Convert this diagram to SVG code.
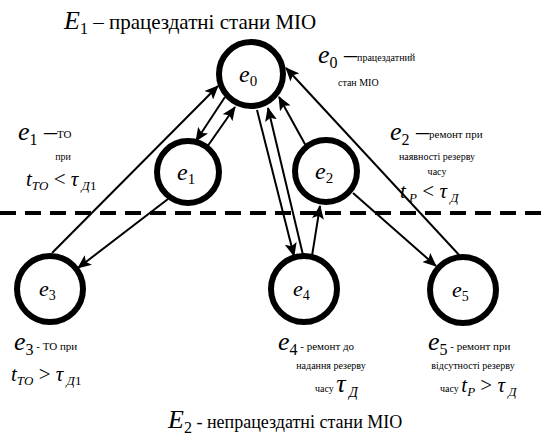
<svg xmlns="http://www.w3.org/2000/svg" width="549" height="440" viewBox="0 0 549 440" font-family="'Liberation Serif', 'Times New Roman', serif">
<defs>
<marker id="ah" markerUnits="userSpaceOnUse" markerWidth="14" markerHeight="12" refX="13" refY="6" orient="auto">
<path d="M0,0 L14,6 L0,12 L3,6 Z" fill="#000"/>
</marker>
<style>
.n{fill:#fff;stroke:#000;stroke-width:6}
.c{stroke:#000;stroke-width:2;fill:none;marker-end:url(#ah)}
.v{font-style:italic}
.lb{font-size:24px;font-style:italic}
.sm{font-size:10px}
.s11{font-size:11px}
</style>
</defs>
<rect width="549" height="440" fill="#fff"/>
<line x1="0" y1="213" x2="549" y2="213" stroke="#000" stroke-width="4" stroke-dasharray="16,9"/>
<g id="connectors">
<path class="c" d="M52,253 L218,86"/>
<path class="c" d="M225,97 L196,141"/>
<path class="c" d="M207,147 L235,107"/>
<path class="c" d="M168,199 L78,268"/>
<path class="c" d="M257,110 L294,256"/>
<path class="c" d="M303,255 L268,108"/>
<path class="c" d="M312,256 L320,206"/>
<path class="c" d="M306,146 L279,97"/>
<path class="c" d="M460,256 L286,68"/>
<path class="c" d="M353,193 L436,266"/>
</g>
<g id="e0"><circle class="n" cx="251" cy="74" r="32"/><text x="239" y="82" class="lb">e<tspan font-size="15" dy="4" font-style="normal">0</tspan></text></g>
<g id="e1"><circle class="n" cx="188" cy="172" r="31"/><text x="177" y="180" class="lb">e<tspan font-size="15" dy="4" font-style="normal">1</tspan></text></g>
<g id="e2"><circle class="n" cx="326" cy="171" r="31"/><text x="315" y="179" class="lb">e<tspan font-size="15" dy="4" font-style="normal">2</tspan></text></g>
<g id="e3"><circle class="n" cx="50" cy="289" r="33"/><text x="39" y="296" font-size="22" class="v">e<tspan font-size="14" dy="4" font-style="normal">3</tspan></text></g>
<g id="e4"><circle class="n" cx="304" cy="289" r="33"/><text x="293" y="296" font-size="22" class="v">e<tspan font-size="14" dy="4" font-style="normal">4</tspan></text></g>
<g id="e5"><circle class="n" cx="463" cy="290" r="33"/><text x="452" y="297" font-size="22" class="v">e<tspan font-size="14" dy="4" font-style="normal">5</tspan></text></g>
<g id="labels">
<text x="64" y="29" font-size="26"><tspan class="v">E</tspan><tspan font-size="16" dy="5">1</tspan><tspan font-size="21" dy="-5"> – працездатні стани МІО</tspan></text>
<text x="318" y="63" font-size="26"><tspan class="v">e</tspan><tspan font-size="16" dy="5">0</tspan><tspan dy="-5"> –</tspan><tspan class="sm" dy="-2">працездатний</tspan></text>
<text x="338" y="86" class="sm">стан МІО</text>
<text x="18" y="140" font-size="26"><tspan class="v">e</tspan><tspan font-size="16" dy="5">1</tspan><tspan dy="-5"> –</tspan><tspan class="s11" dy="-2">ТО</tspan></text>
<text x="63" y="160" class="sm" text-anchor="middle">при</text>
<text x="26" y="186" font-size="21"><tspan class="v">t</tspan><tspan font-size="13" class="v" dy="4">ТО</tspan><tspan dy="-4"> &lt; </tspan><tspan class="v">τ</tspan><tspan font-size="13" class="v" dy="4"> Д</tspan><tspan font-size="13">1</tspan></text>
<text x="390" y="140" font-size="26"><tspan class="v">e</tspan><tspan font-size="16" dy="5">2</tspan><tspan dy="-5"> –</tspan><tspan class="s11" dy="-2">ремонт при</tspan></text>
<text x="437" y="160" class="sm" text-anchor="middle">наявності резерву</text>
<text x="437" y="175" class="sm" text-anchor="middle">часу</text>
<text x="400" y="198" font-size="21"><tspan class="v">t</tspan><tspan font-size="13" class="v" dy="4"> Р</tspan><tspan dy="-4"> &lt; </tspan><tspan class="v">τ</tspan><tspan font-size="13" class="v" dy="4"> Д</tspan></text>
<text x="14" y="350" font-size="26"><tspan class="v">e</tspan><tspan font-size="16" dy="5">3</tspan><tspan class="s11" dy="-5"> - ТО при</tspan></text>
<text x="11" y="381" font-size="21"><tspan class="v">t</tspan><tspan font-size="13" class="v" dy="4">ТО</tspan><tspan dy="-4"> &gt; </tspan><tspan class="v">τ</tspan><tspan font-size="13" class="v" dy="4"> Д</tspan><tspan font-size="13">1</tspan></text>
<text x="278" y="350" font-size="26"><tspan class="v">e</tspan><tspan font-size="16" dy="5">4</tspan><tspan class="s11" dy="-5"> - ремонт до</tspan></text>
<text x="331" y="369" class="sm" text-anchor="middle">надання резерву</text>
<text x="315" y="392" font-size="10">часу <tspan class="v" font-size="26">τ</tspan><tspan class="v" font-size="14" dy="5"> Д</tspan></text>
<text x="428" y="350" font-size="26"><tspan class="v">e</tspan><tspan font-size="16" dy="5">5</tspan><tspan class="s11" dy="-5"> - ремонт при</tspan></text>
<text x="473" y="369" class="sm" text-anchor="middle">відсутності резерву</text>
<text x="440" y="392" font-size="10">часу <tspan class="v" font-size="21">t</tspan><tspan class="v" font-size="13" dy="4">Р</tspan><tspan font-size="21" dy="-4"> &gt; </tspan><tspan class="v" font-size="21">τ</tspan><tspan class="v" font-size="13" dy="4"> Д</tspan></text>
<text x="168" y="428" font-size="26"><tspan class="v">E</tspan><tspan font-size="16" dy="5">2</tspan><tspan font-size="18" dy="-5"> - непрацездатні стани МІО</tspan></text>
</g>
</svg>
